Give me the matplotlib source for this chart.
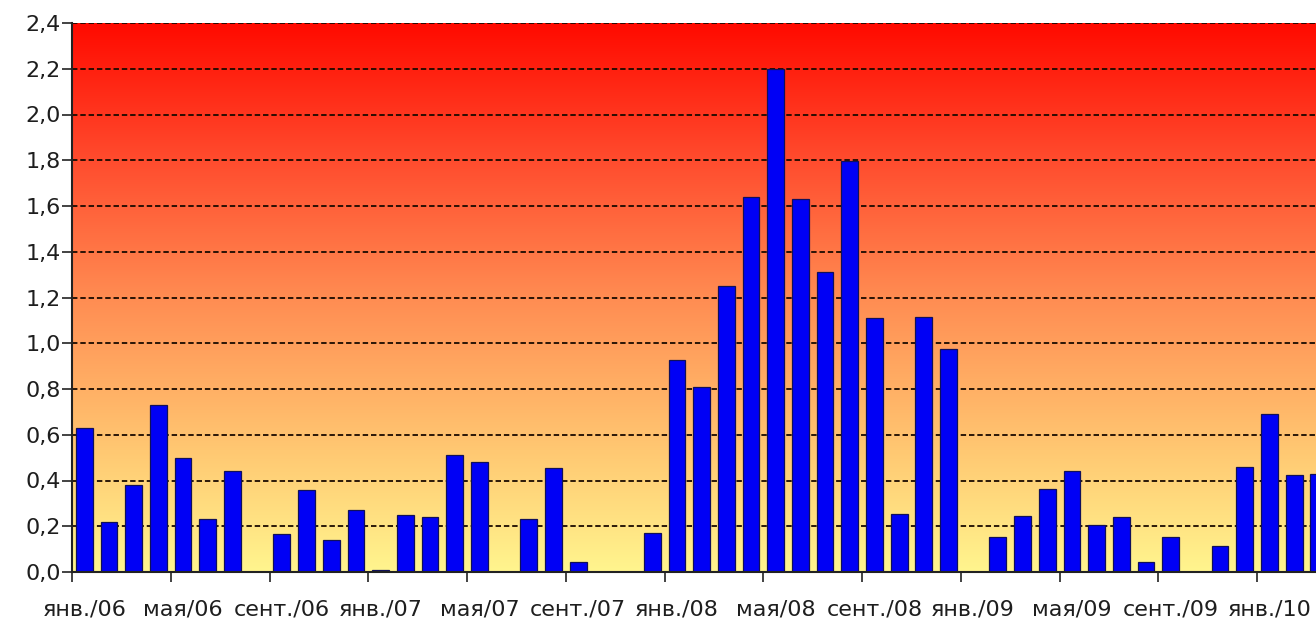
import numpy as np
import matplotlib
matplotlib.use("Agg")
import matplotlib.pyplot as plt
from matplotlib.colors import LinearSegmentedColormap

# помесячные значения, янв.2006 - март 2010 (последний столбец обрезан краем)
values = [0.63, 0.22, 0.38, 0.73, 0.50, 0.23, 0.44, 0.0,
          0.165, 0.36, 0.14, 0.27, 0.01, 0.25, 0.24, 0.51,
          0.48, 0.0, 0.23, 0.455, 0.045, 0.0, 0.0, 0.17,
          0.925, 0.81, 1.25, 1.64, 2.20, 1.63, 1.31, 1.795,
          1.11, 0.255, 1.115, 0.975, 0.0, 0.155, 0.245, 0.365,
          0.44, 0.205, 0.24, 0.045, 0.155, 0.0, 0.115, 0.46,
          0.69, 0.425, 0.43]
tick_labels = ['янв./06', 'мая/06', 'сент./06', 'янв./07', 'мая/07', 'сент./07',
               'янв./08', 'мая/08', 'сент./08', 'янв./09', 'мая/09', 'сент./09', 'янв./10']
y_ticks = [0.0, 0.2, 0.4, 0.6, 0.8, 1.0, 1.2, 1.4, 1.6, 1.8, 2.0, 2.2, 2.4]

plt.rcParams['font.family'] = ['DejaVu Sans']

W, H = 1316, 625
fig = plt.figure(figsize=(W / 100, H / 100), dpi=100)
ax = fig.add_axes([72 / W, (H - 572) / H, (W - 72) / W, (572 - 23) / H])

x = np.arange(len(values))
x_right = -0.5 + (W - 72) / 24.69
ax.set_xlim(-0.5, x_right)
ax.set_ylim(0, 2.4)

# фон: градиент от жёлтого снизу к красному сверху
cmap = LinearSegmentedColormap.from_list('bg', [
    (0.0, '#fff58e'), (0.22, '#ffc872'), (0.5, '#ff8c52'),
    (0.75, '#ff4c2e'), (1.0, '#ff0a00')])
grad = np.linspace(0, 1, 256).reshape(-1, 1)
ax.imshow(grad, cmap=cmap, origin='lower', aspect='auto',
          extent=[-0.5, x_right, 0, 2.4], zorder=0)

for yv in y_ticks[1:]:
    ax.axhline(yv, color='#1a0a00', lw=1.3, ls=(0, (3, 1.6)), zorder=1)

ax.bar(x, values, width=0.68, color='#0000f5', edgecolor='#10105a',
       linewidth=0.9, zorder=2)

ax.set_yticks(y_ticks)
ax.set_yticklabels([('%.1f' % v).replace('.', ',') for v in y_ticks])
ax.set_xticks(np.arange(-0.5, len(values), 4), minor=False)
ax.set_xticklabels([])
ax.set_xticks(np.arange(0, len(values), 4)[:len(tick_labels)], minor=True)
ax.set_xticklabels(tick_labels, minor=True)
ax.tick_params(axis='x', which='minor', length=0, pad=20, labelsize=16,
               labelcolor='#1e1e1e')
ax.tick_params(axis='x', which='major', length=7, width=1.2, color='#222222')
ax.tick_params(axis='y', length=7, width=1.2, color='#222222', pad=1,
               labelsize=16, labelcolor='#1e1e1e')

for s in ['top', 'right']:
    ax.spines[s].set_visible(False)
for s in ['left', 'bottom']:
    ax.spines[s].set_color('#222222')
    ax.spines[s].set_linewidth(1.5)
    ax.spines[s].set_zorder(3)

fig.savefig('out.png', dpi=100, facecolor='white')
